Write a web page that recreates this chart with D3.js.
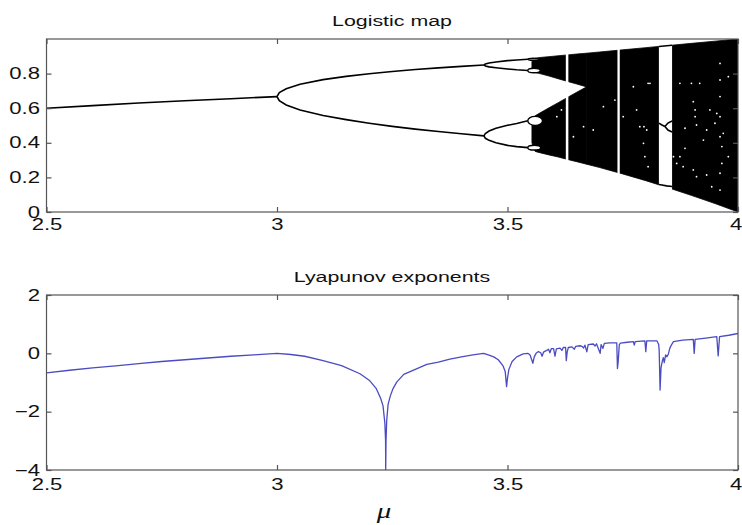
<!DOCTYPE html>
<html>
<head>
<meta charset="utf-8">
<script src="https://cdn.jsdelivr.net/npm/d3@7"></script>
<style>
  body { margin: 0; background: #fff; }
  text { font-family: "Liberation Sans", Arial, sans-serif; fill: #111; }
</style>
</head>
<body>
<div id="chart"></div>
<script>
// ---- values ----
const muTicks = [2.5, 3, 3.5, 4];
const mapTicks = [0, 0.2, 0.4, 0.6, 0.8];
const lyapTicks = [-4, -2, 0, 2];

// stable branches, [mu, x]
const period1 = [[2.5, 0.600], [2.6, 0.615], [2.7, 0.630], [2.8, 0.643], [2.9, 0.655], [3.0, 0.667]];
const period2Upper = [[3.0, 0.667], [3.005, 0.690], [3.02, 0.712], [3.05, 0.738], [3.1, 0.765], [3.15, 0.784],
  [3.2, 0.799], [3.25, 0.812], [3.3, 0.824], [3.35, 0.833], [3.4, 0.842], [3.449, 0.850]];
const period2Lower = [[3.0, 0.667], [3.005, 0.643], [3.02, 0.619], [3.05, 0.590], [3.1, 0.558], [3.15, 0.534],
  [3.2, 0.513], [3.25, 0.495], [3.3, 0.479], [3.35, 0.465], [3.4, 0.452], [3.449, 0.440]];
const period4A = [[3.449, 0.850], [3.452, 0.856], [3.46, 0.861], [3.475, 0.867], [3.5, 0.875], [3.52, 0.879], [3.544, 0.883]];
const period4B = [[3.449, 0.850], [3.452, 0.844], [3.46, 0.839], [3.475, 0.834], [3.5, 0.827], [3.52, 0.822], [3.544, 0.818]];
const period4C = [[3.449, 0.440], [3.452, 0.454], [3.46, 0.468], [3.475, 0.484], [3.5, 0.501], [3.52, 0.512], [3.544, 0.527]];
const period4D = [[3.449, 0.440], [3.452, 0.426], [3.46, 0.414], [3.475, 0.400], [3.5, 0.385], [3.52, 0.378], [3.544, 0.372]];

// period-8 bubbles: [mu start, mu end, centre, half height]
const period8Bubbles = [[3.544, 3.568, 0.883, 0.006], [3.544, 3.571, 0.818, 0.013],
  [3.544, 3.576, 0.527, 0.026], [3.544, 3.572, 0.372, 0.014]];

// chaotic bands, [mu, top, bottom]
const upperBand = [[3.553, 0.870, 0.830], [3.560, 0.889, 0.806], [3.570, 0.893, 0.800], [3.590, 0.898, 0.786],
  [3.610, 0.903, 0.770], [3.630, 0.908, 0.755], [3.650, 0.913, 0.740], [3.672, 0.918, 0.723]];
const lowerBand = [[3.553, 0.520, 0.400], [3.560, 0.556, 0.350], [3.570, 0.572, 0.343], [3.590, 0.602, 0.330],
  [3.610, 0.632, 0.318], [3.630, 0.662, 0.304], [3.650, 0.692, 0.291], [3.672, 0.724, 0.276]];
const chaosBand = [[3.672, 0.918, 0.276], [3.70, 0.925, 0.257], [3.75, 0.9375, 0.220], [3.80, 0.950, 0.181],
  [3.85, 0.9625, 0.139], [3.90, 0.975, 0.095], [3.95, 0.9875, 0.049], [4.0, 1.0, 0.0]];

// periodic windows [mu start, mu end]
const windows = [[3.6265, 3.632], [3.7385, 3.7435], [3.8284, 3.857]];
const period3Top = [[3.8284, 0.957], [3.857, 0.964]];
const period3Bottom = [[3.8284, 0.159], [3.835, 0.156], [3.845, 0.151], [3.857, 0.147]];
const period3Mid = [[3.8284, 0.514], [3.835, 0.503], [3.8415, 0.494]];
const period6Up = [[3.8415, 0.494], [3.848, 0.514], [3.857, 0.526]];
const period6Down = [[3.8415, 0.494], [3.848, 0.474], [3.857, 0.462]];

// white specks inside the chaotic region [mu, x]
const specks = [[3.607, 0.551], [3.617, 0.590], [3.643, 0.435], [3.665, 0.493], [3.686, 0.474], [3.708, 0.609],
  [3.733, 0.647], [3.751, 0.551], [3.773, 0.724], [3.780, 0.590], [3.787, 0.493], [3.805, 0.744],
  [3.809, 0.744], [3.796, 0.493], [3.802, 0.474], [3.795, 0.397], [3.798, 0.320], [3.805, 0.262],
  [3.874, 0.744], [3.899, 0.744], [3.917, 0.744], [3.903, 0.638], [3.907, 0.590], [3.907, 0.551],
  [3.910, 0.503], [3.885, 0.484], [3.885, 0.368], [3.874, 0.320], [3.867, 0.281], [3.881, 0.262],
  [3.860, 0.320], [3.903, 0.243], [3.910, 0.204], [3.932, 0.214], [3.943, 0.146], [3.961, 0.859],
  [3.961, 0.763], [3.961, 0.667], [3.961, 0.551], [3.961, 0.435], [3.965, 0.378], [3.965, 0.281],
  [3.961, 0.224], [3.961, 0.127], [3.979, 0.782], [3.939, 0.590], [3.954, 0.570], [3.950, 0.513],
  [3.932, 0.474], [3.925, 0.416], [3.968, 0.455], [3.979, 0.320]];

// Lyapunov exponent, [mu, lambda]
const lyapunov = [[2.5, -0.67], [2.55, -0.58], [2.6, -0.50], [2.65, -0.43], [2.7, -0.35], [2.75, -0.28],
  [2.8, -0.22], [2.85, -0.16], [2.9, -0.10], [2.95, -0.05], [3.0, 0.0], [3.03, -0.04], [3.06, -0.10],
  [3.1, -0.25], [3.14, -0.42], [3.18, -0.70], [3.2, -0.92], [3.215, -1.2], [3.225, -1.55], [3.23, -1.8],
  [3.234, -2.4], [3.2355, -3.0], [3.2358, -4.0], [3.2365, -3.0], [3.238, -2.3], [3.241, -1.75],
  [3.246, -1.45], [3.252, -1.2], [3.26, -0.98], [3.275, -0.72], [3.3, -0.55], [3.325, -0.38],
  [3.35, -0.30], [3.375, -0.20], [3.4, -0.12], [3.425, -0.05], [3.448, 0.0], [3.46, -0.06],
  [3.47, -0.12], [3.48, -0.22], [3.49, -0.42], [3.495, -0.62], [3.498, -1.14], [3.5, -0.85],
  [3.503, -0.55], [3.51, -0.28], [3.52, -0.12], [3.534, -0.02], [3.544, 0.0], [3.549, -0.06],
  [3.555, -0.34], [3.558, -0.12], [3.562, 0.0], [3.567, 0.06], [3.572, 0.02], [3.575, -0.10],
  [3.578, 0.04], [3.585, 0.10], [3.589, 0.14], [3.592, 0.02], [3.595, 0.16], [3.600, 0.16],
  [3.603, -0.10], [3.606, 0.15], [3.614, 0.18], [3.618, 0.10], [3.621, 0.20], [3.626, 0.20],
  [3.6275, -0.25], [3.6295, 0.05], [3.632, 0.20], [3.640, 0.22], [3.645, 0.14], [3.648, 0.24],
  [3.657, 0.26], [3.662, 0.24], [3.665, 0.18], [3.668, 0.28], [3.672, 0.05], [3.675, 0.30],
  [3.686, 0.32], [3.690, 0.25], [3.693, 0.33], [3.701, 0.0], [3.703, 0.30], [3.707, 0.17],
  [3.710, 0.34], [3.722, 0.36], [3.737, 0.36], [3.7385, -0.52], [3.740, -0.30], [3.7425, 0.30],
  [3.745, 0.35], [3.760, 0.38], [3.773, 0.40], [3.775, 0.28], [3.777, 0.40], [3.790, 0.42],
  [3.798, 0.43], [3.800, 0.06], [3.802, 0.43], [3.815, 0.43], [3.824, 0.43], [3.828, 0.30],
  [3.829, 0.10], [3.831, -1.26], [3.833, -0.50], [3.836, -0.25], [3.838, -0.15], [3.840, -0.32],
  [3.843, -0.05], [3.846, -0.12], [3.849, -0.02], [3.852, 0.17], [3.856, 0.30], [3.860, 0.40],
  [3.880, 0.45], [3.903, 0.48], [3.905, 0.0], [3.907, 0.48], [3.930, 0.52], [3.954, 0.57],
  [3.957, -0.09], [3.960, 0.57], [3.980, 0.62], [4.0, 0.68]];

// ---- layout ----
const width = 742, height = 525;
const left = 46.5, right = 738;
const topPanel = { y0: 39, y1: 212 };
const botPanel = { y0: 295, y1: 470 };
const frameColor = '#555';
const stretch = 1.38;   // the source figure has horizontally widened lettering

const svg = d3.select('#chart').append('svg')
  .attr('width', width)
  .attr('height', height);

const x = d3.scaleLinear().domain([2.5, 4]).range([left, right]);
const yMap = d3.scaleLinear().domain([0, 1]).range([topPanel.y1, topPanel.y0]);
const yLy = d3.scaleLinear().domain([-4, 2]).range([botPanel.y1, botPanel.y0]);

const line = (ys) => d3.line().x(d => x(d[0])).y(d => ys(d[1]));
const band = d3.area().x(d => x(d[0])).y0(d => yMap(d[2])).y1(d => yMap(d[1]));

svg.append('clipPath').attr('id', 'clipTop')
  .append('rect').attr('x', left).attr('y', topPanel.y0).attr('width', right - left).attr('height', topPanel.y1 - topPanel.y0);
svg.append('clipPath').attr('id', 'clipBot')
  .append('rect').attr('x', left).attr('y', botPanel.y0).attr('width', right - left).attr('height', botPanel.y1 - botPanel.y0);

// ---- logistic map ----
const gMap = svg.append('g').attr('clip-path', 'url(#clipTop)');

[upperBand, lowerBand, chaosBand].forEach(b => {
  gMap.append('path').attr('d', band(b)).attr('fill', '#000').attr('stroke', '#000').attr('stroke-width', 0.8);
});

gMap.selectAll('rect.window')
  .data(windows)
  .enter()
  .append('rect')
  .attr('class', 'window')
  .attr('x', d => x(d[0]))
  .attr('width', d => x(d[1]) - x(d[0]))
  .attr('y', yMap(1))
  .attr('height', yMap(0) - yMap(1))
  .attr('fill', '#fff');

gMap.selectAll('circle.speck')
  .data(specks)
  .enter()
  .append('circle')
  .attr('class', 'speck')
  .attr('cx', d => x(d[0]))
  .attr('cy', d => yMap(d[1]))
  .attr('r', 0.9)
  .attr('fill', '#fff');

gMap.selectAll('ellipse.bubble')
  .data(period8Bubbles)
  .enter()
  .append('ellipse')
  .attr('class', 'bubble')
  .attr('cx', d => x((d[0] + d[1]) / 2))
  .attr('rx', d => (x(d[1]) - x(d[0])) / 2)
  .attr('cy', d => yMap(d[2]))
  .attr('ry', d => yMap(d[2] - d[3]) - yMap(d[2]))
  .attr('fill', '#fff')
  .attr('stroke', '#000')
  .attr('stroke-width', 1.4);

const branches = [period1, period2Upper, period2Lower, period4A, period4B, period4C, period4D,
  period3Top, period3Bottom, period3Mid, period6Up, period6Down];
gMap.selectAll('path.branch')
  .data(branches)
  .enter()
  .append('path')
  .attr('class', 'branch')
  .attr('d', line(yMap))
  .attr('fill', 'none')
  .attr('stroke', '#000')
  .attr('stroke-width', 1.6);

// ---- Lyapunov exponents ----
svg.append('g').attr('clip-path', 'url(#clipBot)')
  .append('path')
  .datum(lyapunov)
  .attr('d', line(yLy))
  .attr('fill', 'none')
  .attr('stroke', '#4b4bc4')
  .attr('stroke-width', 1.3)
  .attr('stroke-linejoin', 'round');

// ---- frames, ticks, labels ----
function frame(panel, yScale, yTicks, yFormat, xPad) {
  const g = svg.append('g');
  g.append('g').attr('class', 'xlab').attr('transform', `translate(0,${panel.y1})`)
    .call(d3.axisBottom(x).tickValues(muTicks).tickSizeInner(-5).tickSizeOuter(0).tickPadding(xPad).tickFormat(d3.format('')));
  g.append('g').attr('transform', `translate(0,${panel.y0})`)
    .call(d3.axisTop(x).tickValues(muTicks).tickSizeInner(-5).tickSizeOuter(0).tickFormat(''));
  g.append('g').attr('transform', `translate(${left},0)`)
    .call(d3.axisLeft(yScale).tickValues(yTicks).tickSizeInner(-5).tickSizeOuter(0).tickPadding(6.5 / stretch).tickFormat(yFormat));
  g.append('g').attr('transform', `translate(${right},0)`)
    .call(d3.axisRight(yScale).tickValues(yTicks).tickSizeInner(-5).tickSizeOuter(0).tickFormat(''));
  g.selectAll('.domain').remove();
  g.selectAll('.tick line').attr('stroke', frameColor).attr('stroke-width', 1.2);
  g.selectAll('.tick text')
    .attr('transform', `scale(${stretch},1)`)
    .style('font-family', '"Liberation Sans", Arial, sans-serif')
    .style('font-size', '16px')
    .attr('fill', '#111');
  // keep the last label inside the page
  g.selectAll('.xlab .tick text').filter(d => d === 4).attr('dx', -2.5 / stretch);
  g.append('rect')
    .attr('x', left).attr('y', panel.y0)
    .attr('width', right - left).attr('height', panel.y1 - panel.y0)
    .attr('fill', 'none').attr('stroke', frameColor).attr('stroke-width', 1.2);
}

frame(topPanel, yMap, mapTicks, d => d === 0 ? '0' : d3.format('.1f')(d), 6.5);
frame(botPanel, yLy, lyapTicks, d => d < 0 ? '\u2212' + Math.abs(d) : String(d), 8.5);

function label(str, cx, by, size, italic, family) {
  svg.append('text')
    .attr('transform', `translate(${cx},${by}) scale(${stretch},1)`)
    .attr('text-anchor', 'middle')
    .style('font-size', size + 'px')
    .style('font-style', italic ? 'italic' : 'normal')
    .style('font-family', family || '"Liberation Sans", Arial, sans-serif')
    .text(str);
}

label('Logistic map', 392, 26, 15.5);
label('Lyapunov exponents', 392, 282, 15.5);
label('\u03bc', 384, 518, 21, true, '"Liberation Serif", "Times New Roman", serif');
</script>
</body>
</html>
